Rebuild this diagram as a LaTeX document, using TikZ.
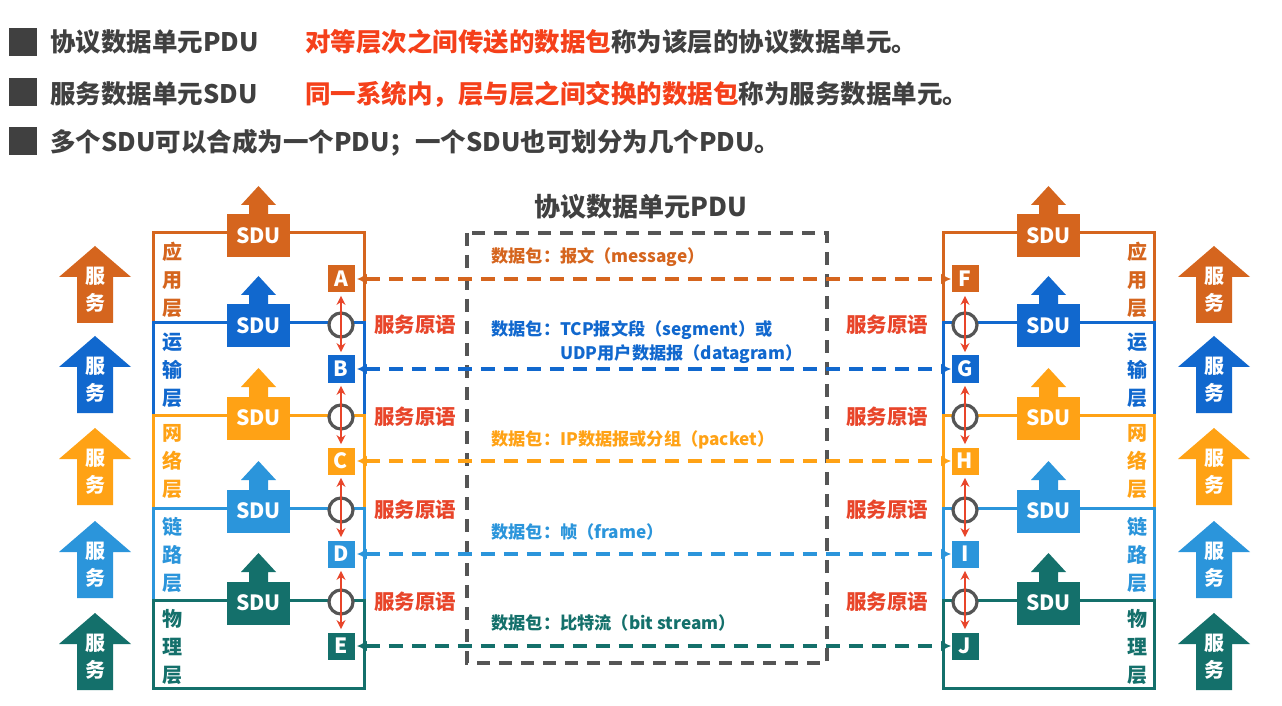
\documentclass[tikz,border=0pt]{standalone}
\usepackage{fontspec}
\setmainfont{Noto Sans CJK SC}
\usetikzlibrary{arrows.meta, positioning, calc}
\definecolor{appcol}{HTML}{D5651E}
\definecolor{transcol}{HTML}{1168CE}
\definecolor{netcol}{HTML}{FFA215}
\definecolor{linkcol}{HTML}{2B95DB}
\definecolor{phycol}{HTML}{14706B}
\definecolor{hotred}{HTML}{F5401A}
\definecolor{primred}{HTML}{E8452A}
\definecolor{textgray}{HTML}{404040}
\definecolor{boxgray}{HTML}{555555}

\begin{document}
\begin{tikzpicture}[x=0.5pt, y=-0.5pt, every node/.style={font=\bfseries},
  bullet/.style={fill=textgray, minimum size=14pt, inner sep=0pt},
  headline/.style={anchor=west, text=textgray, inner sep=0pt, font=\fontsize{12.75}{15}\selectfont\bfseries},
  layerbox/.style={draw=#1, line width=1.5pt},
  layername/.style={text=#1, align=center, inner sep=0pt, font=\fontsize{10}{14}\selectfont\bfseries},
  sdubox/.style={fill=#1, text=white, minimum width=31.5pt, minimum height=21.5pt, inner sep=0pt, font=\fontsize{10.5}{12}\selectfont\bfseries},
  tag/.style={fill=#1, text=white, minimum size=13.5pt, inner sep=0pt, font=\fontsize{10.5}{12}\selectfont\bfseries},
  sap/.style={draw=boxgray, fill=white, circle, line width=1.6pt, minimum size=12pt, inner sep=0pt},
  prim/.style={draw=primred, line width=1pt, shorten <=1.5pt, shorten >=1.5pt,
    {Stealth[length=4.5pt, width=4.5pt]}-{Stealth[length=4.5pt, width=4.5pt]}},
  primlabel/.style={text=primred, inner sep=0pt, font=\fontsize{10.25}{12}\selectfont\bfseries},
  pdu/.style={draw=#1, line width=1.8pt, dash pattern=on 7pt off 4.5pt, shorten <=1pt,
    {Latex[length=5pt, width=5.5pt]}-{Latex[length=5pt, width=5.5pt]}},
  pdulabel/.style={text=#1, anchor=west, align=left, inner sep=0pt, font=\fontsize{8.6}{12}\selectfont\bfseries},
  svctext/.style={text=white, align=center, inner sep=0pt, font=\fontsize{10}{13.5}\selectfont\bfseries}]
  \fill[white] (0,0) rectangle (1282,706);
  \useasboundingbox (0,0) rectangle (1282,706);

  % definitions at the top
  \node[bullet] (b1) at (23,42) {};
  \node[headline] (pduhead) at (50,42) {协议数据单元PDU};
  \node[headline] (pdudef) at (305,42) {{\color{hotred}对等层次之间传送的数据包}称为该层的协议数据单元。};
  \node[bullet] (b2) at (23,92) {};
  \node[headline] (sduhead) at (50,94) {服务数据单元SDU};
  \node[headline] (sdudef) at (305,94) {{\color{hotred}同一系统内，层与层之间交换的数据包}称为服务数据单元。};
  \node[bullet] (b3) at (23,141) {};
  \node[headline] (note) at (50,143) {多个SDU可以合成为一个PDU；一个SDU也可划分为几个PDU。};

  % peer box
  \node[text=textgray, font=\fontsize{13}{15}\selectfont\bfseries] (title) at (641,207) {协议数据单元PDU};
  \draw[boxgray, line width=1.8pt, dash pattern=on 6.5pt off 4.5pt] (467,233) rectangle (827,663);

  % layers of both systems
  \foreach \i/\col/\t/\b/\lab/\lt/\rt in {1/appcol/233/323/{应\\用\\层}/A/F, 2/transcol/323/415/{运\\输\\层}/B/G,
      3/netcol/415/508/{网\\络\\层}/C/H, 4/linkcol/508/600/{链\\路\\层}/D/I, 5/phycol/600/688/{物\\理\\层}/E/J} {
    \draw[layerbox=\col] (153,\t) rectangle (364,\b);
    \draw[layerbox=\col] (943,\t) rectangle (1154,\b);
    \node[layername=\col] (nameL\i) at (172,\t+47) {\lab};
    \node[layername=\col] (nameR\i) at (1137,\t+47) {\lab};
    \node[tag=\col] (tag\lt) at (341,\t+46) {\lt};
    \node[tag=\col] (tag\rt) at (965,\t+46) {\rt};
    % service arrows at the sides
    \foreach \s/\x in {L/95, R/1214} {
      \fill[\col] (\x,\t+13) -- (\x+36,\t+44) -- (\x+18,\t+44) -- (\x+18,\t+90)
        -- (\x-18,\t+90) -- (\x-18,\t+44) -- (\x-36,\t+44) -- cycle;
      \node[svctext] (svc\s\i) at (\x,\t+57) {服\\务};
    }
  }

  % SDU arrows
  \foreach \i/\col/\t in {1/appcol/233, 2/transcol/323, 3/netcol/415, 4/linkcol/508, 5/phycol/600} {
    \foreach \s/\x in {L/258.5, R/1048.5} {
      \fill[\col] (\x,\t-47) -- (\x+17.5,\t-28) -- (\x+9.5,\t-28) -- (\x+9.5,\t-15)
        -- (\x-9.5,\t-15) -- (\x-9.5,\t-28) -- (\x-17.5,\t-28) -- cycle;
      \node[sdubox=\col] (sdu\s\i) at (\x,\t+3) {SDU};
    }
  }

  % service access points
  \foreach \i/\t in {2/323, 3/415, 4/508, 5/600} {
    \node[sap] (sapL\i) at (341,\t+2) {};
    \node[sap] (sapR\i) at (965,\t+2) {};
    \node[primlabel] (primL\i) at (415,\t+2) {服务原语};
    \node[primlabel] (primR\i) at (887,\t+2) {服务原语};
  }
  \foreach \u/\v in {A/B, B/C, C/D, D/E, F/G, G/H, H/I, I/J}
    \draw[prim] (tag\u) -- (tag\v);

  % peer to peer
  \draw[pdu=appcol] (tagA) -- (tagF);
  \draw[pdu=transcol] (tagB) -- (tagG);
  \draw[pdu=netcol] (tagC) -- (tagH);
  \draw[pdu=linkcol] (tagD) -- (tagI);
  \draw[pdu=phycol] (tagE) -- (tagJ);
  \node[pdulabel=appcol] (msg) at (491,257) {数据包：报文（message）};
  \node[pdulabel=transcol] (seg) at (491,342) {数据包：TCP报文段（segment）或\\\phantom{数据包：}UDP用户数据报（datagram）};
  \node[pdulabel=netcol] (pkt) at (491,440) {数据包：IP数据报或分组（packet）};
  \node[pdulabel=linkcol] (frm) at (491,532) {数据包：帧（frame）};
  \node[pdulabel=phycol] (bits) at (491,623) {数据包：比特流（bit stream）};
\end{tikzpicture}
\end{document}
